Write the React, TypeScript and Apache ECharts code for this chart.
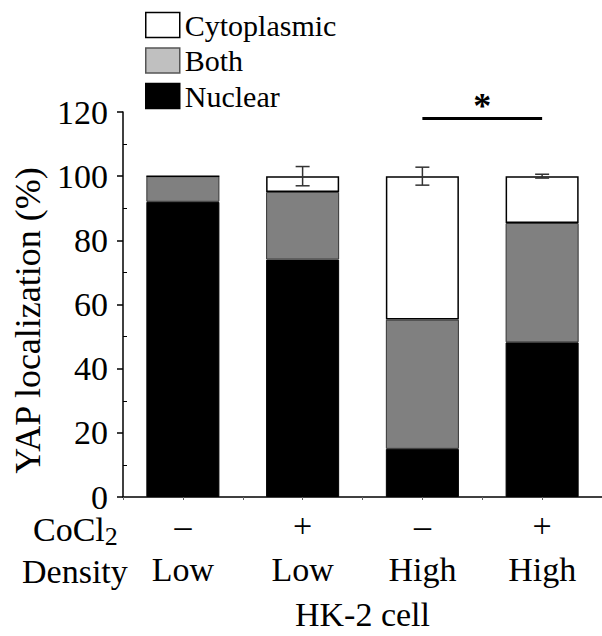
import React, { useEffect, useRef } from "react";
import * as echarts from "echarts";

const categories = ["Low −", "Low +", "High −", "High +"];
const cocl2 = ["–", "+", "–", "+"];
const density = ["Low", "Low", "High", "High"];
const nuclear = [92, 74, 15, 48.2];
const both = [8, 21.1, 40.3, 37.2];
const cytoplasmic = [0, 4.9, 44.7, 14.6];
const cytoErr = [0, 3, 2.8, 0.6];
const seriesNames = ["Cytoplasmic", "Both", "Nuclear"];
const sigPair = [2, 3];
const sigLevel = 118;

const FONT = "Times New Roman";

export default function App() {
  const ref = useRef<HTMLDivElement>(null);
  useEffect(() => {
    const chart = echarts.init(ref.current!, null, { renderer: "svg" });
    const errData = categories.map((c, i) => [i, 100, cytoErr[i]]).filter((d) => d[2] > 0);
    chart.setOption({
      animation: false,
      legend: {
        orient: "vertical",
        left: 140,
        top: 5,
        itemWidth: 34,
        itemHeight: 25,
        itemGap: 5.5,
        selectedMode: false,
        textStyle: { fontFamily: FONT, fontSize: 30, color: "#000", lineHeight: 25 },
        data: [
          { name: seriesNames[0], icon: "rect", itemStyle: { color: "#fff", borderColor: "#000", borderWidth: 1.5 } },
          { name: seriesNames[1], icon: "rect", itemStyle: { color: "#c0c0c0", borderColor: "#555", borderWidth: 1.5 } },
          { name: seriesNames[2], icon: "rect", itemStyle: { color: "#000", borderColor: "#000", borderWidth: 1.5 } },
        ],
      },
      grid: { left: 123, width: 480, top: 112, bottom: 138 },
      xAxis: [
        {
          type: "category",
          data: categories,
          name: "HK-2 cell",
          nameLocation: "middle",
          nameGap: 100,
          nameTextStyle: { fontFamily: FONT, fontSize: 34, color: "#000" },
          axisLine: { lineStyle: { color: "#000", width: 1.5 } },
          axisTick: { show: false },
          axisLabel: {
            interval: 0,
            margin: 6,
            fontFamily: FONT,
            fontSize: 34,
            color: "#000",
            lineHeight: 44,
            formatter: (_v: string, i: number) => `${cocl2[i]}\n${density[i]}`,
          },
        },
        {
          type: "value",
          min: 0,
          max: 8,
          interval: 1,
          position: "bottom",
          axisLine: { show: false },
          axisTick: { show: true, length: 3, lineStyle: { color: "#666" } },
          axisLabel: { show: false },
          splitLine: { show: false },
        },
      ],
      yAxis: {
        type: "value",
        min: 0,
        max: 120,
        interval: 20,
        name: "YAP localization (%)",
        nameLocation: "middle",
        nameGap: 76,
        nameTextStyle: { fontFamily: FONT, fontSize: 36, color: "#000", padding: [0, 32, 0, 0] },
        axisLine: { show: true, lineStyle: { color: "#000", width: 1.5 } },
        axisTick: { show: true, length: 6, lineStyle: { color: "#000", width: 1.5 } },
        minorTick: { show: true, splitNumber: 2, length: -4, lineStyle: { color: "#000" } },
        splitLine: { show: false },
        axisLabel: { margin: 15, fontFamily: FONT, fontSize: 34, color: "#000" },
      },
      series: [
        {
          name: seriesNames[2],
          type: "bar",
          stack: "loc",
          barWidth: "61%",
          data: nuclear,
          itemStyle: { color: "#000", borderColor: "#000", borderWidth: 1 },
        },
        {
          name: seriesNames[1],
          type: "bar",
          stack: "loc",
          data: both,
          itemStyle: { color: "#808080", borderColor: "#333", borderWidth: 1 },
        },
        {
          name: seriesNames[0],
          type: "bar",
          stack: "loc",
          data: cytoplasmic,
          itemStyle: { color: "#fff", borderColor: "#000", borderWidth: 1.5 },
          markLine: {
            symbol: "none",
            silent: true,
            lineStyle: { color: "#000", width: 3, type: "solid" },
            label: {
              show: true,
              position: "middle",
              formatter: "*",
              fontFamily: FONT,
              fontSize: 36,
              fontWeight: "bold",
              color: "#000",
              distance: -6,
            },
            data: [
              [
                { coord: [categories[sigPair[0]], sigLevel] },
                { coord: [categories[sigPair[1]], sigLevel] },
              ],
            ],
          },
        },
        {
          type: "custom",
          data: errData,
          z: 10,
          renderItem: (params: any, api: any) => {
            const i = api.value(0);
            const c = api.value(1);
            const e = api.value(2);
            const top = api.coord([i, c + e]);
            const bot = api.coord([i, c - e]);
            const w = 7;
            const style = { stroke: "#333", lineWidth: 1.5 };
            return {
              type: "group",
              children: [
                { type: "line", shape: { x1: top[0], y1: top[1], x2: bot[0], y2: bot[1] }, style },
                { type: "line", shape: { x1: top[0] - w, y1: top[1], x2: top[0] + w, y2: top[1] }, style },
                { type: "line", shape: { x1: bot[0] - w, y1: bot[1], x2: bot[0] + w, y2: bot[1] }, style },
              ],
            };
          },
        },
      ],
      graphic: [
        {
          type: "text",
          left: 33,
          top: 512,
          style: {
            text: "CoCl{sub|2}",
            fontFamily: FONT,
            fontSize: 34,
            fill: "#000",
            rich: { sub: { fontFamily: FONT, fontSize: 26, verticalAlign: "bottom", padding: [14, 0, 0, 0] } },
          },
        },
        {
          type: "text",
          left: 22,
          top: 554,
          style: { text: "Density", fontFamily: FONT, fontSize: 34, fill: "#000" },
        },
      ],
    });
    return () => chart.dispose();
  }, []);
  return <div ref={ref} style={{ position: "fixed", left: 0, top: 0, width: 602, height: 636, background: "#fff" }} />;
}
